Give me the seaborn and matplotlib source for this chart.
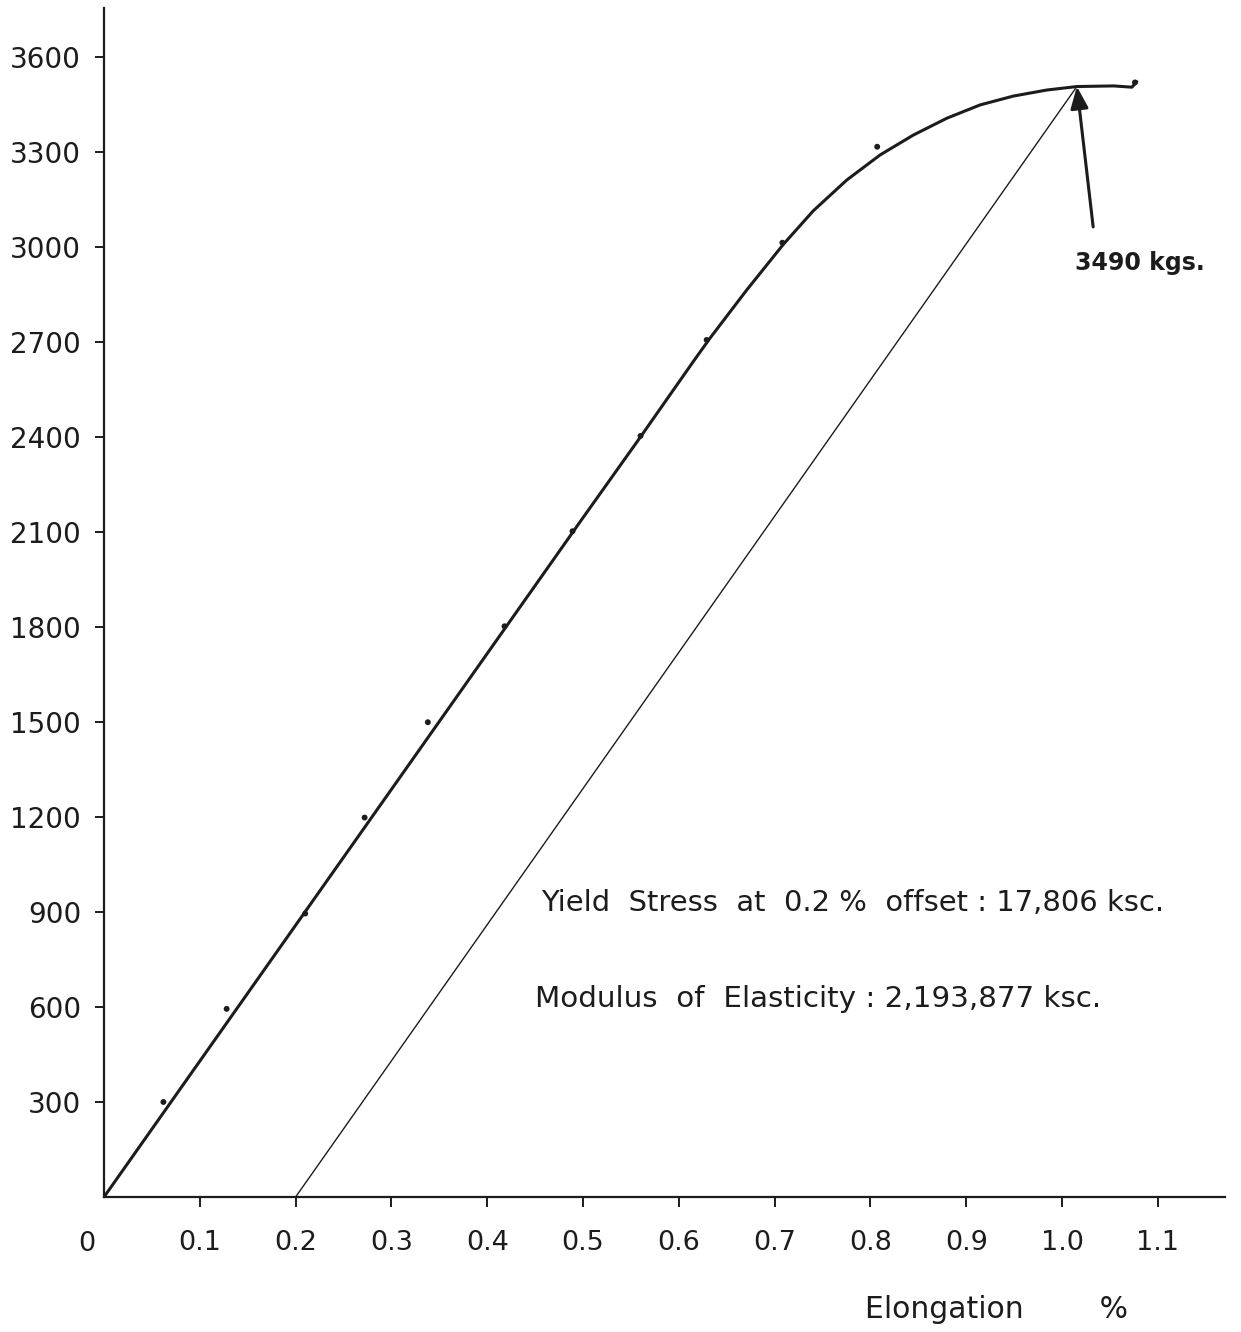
import matplotlib
matplotlib.use("Agg")
import matplotlib.pyplot as plt
import matplotlib.transforms as mtransforms
import seaborn as sns
import pandas as pd

# ---- data ----
curve_x = [0.0, 0.10, 0.20, 0.30, 0.40, 0.50, 0.56, 0.6151, 0.6326, 0.6709, 0.7091,
           0.7404, 0.7753, 0.8100, 0.8448, 0.8797, 0.9144, 0.9492, 0.9840, 1.0154,
           1.0536, 1.0728, 1.0780]
curve_y = [0, 429, 858, 1287, 1716, 2145, 2400, 2638, 2712, 2864, 3008,
           3114, 3211, 3290, 3353, 3406, 3448, 3476, 3495, 3506,
           3508, 3504, 3521]

point_x = [0.062, 0.128, 0.210, 0.272, 0.338, 0.418, 0.489, 0.560, 0.629, 0.708, 0.807, 1.076]
point_y = [300, 594, 895, 1198, 1499, 1802, 2102, 2403, 2706, 3013, 3316, 3519]

offset_x = [0.20, 1.0154]
offset_y = [0, 3506]

peak_x = 1.0154
peak_y = 3506
arrow_tail_x = 1.0324
arrow_tail_y = 3063
peak_label = "3490 kgs."

y_ticks = [300, 600, 900, 1200, 1500, 1800, 2100, 2400, 2700, 3000, 3300, 3600]
x_ticks = [0.1, 0.2, 0.3, 0.4, 0.5, 0.6, 0.7, 0.8, 0.9, 1.0, 1.1]
x_tick_labels = ["0.1", "0.2", "0.3", "0.4", "0.5", "0.6", "0.7", "0.8", "0.9", "1.0", "1.1"]

yield_text = "Yield  Stress  at  0.2 %  offset : 17,806 ksc."
modulus_text = "Modulus  of  Elasticity : 2,193,877 ksc."
x_label = "Elongation        %"

# ---- styling ----
sns.set_theme(style="ticks")
plt.rcParams['font.family'] = ['DejaVu Sans']
ink = "#1c1c1c"

W, H = 1241, 1332
fig = plt.figure(figsize=(W / 100, H / 100), dpi=100, facecolor="white")
ax = fig.add_axes([104 / W, (H - 1197) / H, (1225 - 104) / W, (1197 - 8) / H])
ax.set_facecolor("white")

curve_df = pd.DataFrame({"x": curve_x, "y": curve_y})
offset_df = pd.DataFrame({"x": offset_x, "y": offset_y})
pts_df = pd.DataFrame({"x": point_x, "y": point_y})

sns.lineplot(data=curve_df, x="x", y="y", ax=ax, color=ink, linewidth=2.2,
             sort=False, estimator=None)
sns.lineplot(data=offset_df, x="x", y="y", ax=ax, color=ink, linewidth=1.0,
             sort=False, estimator=None)
sns.scatterplot(data=pts_df, x="x", y="y", ax=ax, color=ink, s=18,
                edgecolor="none", zorder=5)

ax.set_xlim(0, 1.170)
ax.set_ylim(0, 3754)

for s in ["top", "right"]:
    ax.spines[s].set_visible(False)
for s in ["left", "bottom"]:
    ax.spines[s].set_color(ink)
    ax.spines[s].set_linewidth(1.6)

ax.set_yticks(y_ticks)
ax.set_yticklabels([str(v) for v in y_ticks])
ax.set_xticks(x_ticks)
ax.set_xticklabels(x_tick_labels)
ax.tick_params(axis="y", direction="out", length=6.5, width=1.4, color=ink,
               pad=10, labelsize=20, labelcolor=ink)
ax.tick_params(axis="x", direction="out", length=7, width=1.4, color=ink,
               pad=17, labelsize=19.5, labelcolor=ink)

# "0" at the origin (no tick mark)
ax.text(-0.018, -0.0395, "0",
        transform=mtransforms.blended_transform_factory(ax.transData, ax.transAxes),
        ha="center", va="center", fontsize=19.5, color=ink)

ax.set_xlabel("")
ax.set_ylabel("")
ax.text(0.679, -0.095, x_label, transform=ax.transAxes, ha="left", va="center",
        fontsize=21.5, color=ink)

# arrow to peak
ax.annotate("", xy=(peak_x, peak_y), xytext=(arrow_tail_x, arrow_tail_y),
            arrowprops=dict(arrowstyle="-|>,head_length=1.1,head_width=0.45",
                            color=ink, lw=2.2, shrinkA=0, shrinkB=0))
ax.text(1.0136, 2949, peak_label, ha="left", va="center", fontsize=17,
        fontweight="bold", color=ink)

ax.text(0.456, 928, yield_text, ha="left", va="center", fontsize=20.9, color=ink)
ax.text(0.450, 625, modulus_text, ha="left", va="center", fontsize=21.2, color=ink)

fig.savefig("out.png", dpi=100, facecolor="white")
